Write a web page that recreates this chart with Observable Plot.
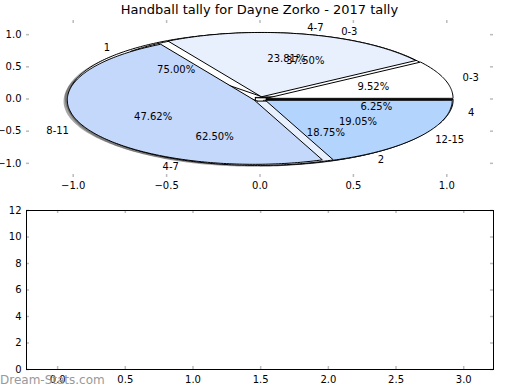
<!DOCTYPE html>
<html><head><meta charset="utf-8">
<script src="https://cdn.jsdelivr.net/npm/d3@7"></script>
<script src="https://cdn.jsdelivr.net/npm/@observablehq/plot@0.6"></script>
<style>
body{margin:0;background:#fff;font-family:"DejaVu Sans",sans-serif;}
#wrap{position:relative;width:520px;height:390px;overflow:hidden;background:#fff;}
#title{position:absolute;top:2px;left:26px;width:467px;text-align:center;font-size:13px;line-height:16px;color:#000;white-space:nowrap;}
#top{position:absolute;top:0;left:0;}
#bottom{position:absolute;top:200px;left:0;}
#mark{position:absolute;left:0;top:372px;font-size:12px;line-height:16px;color:#999;}
</style></head>
<body><div id="wrap"><div id="top"></div><div id="bottom"></div><div id="title"></div><div id="mark"></div></div>
<script>
const titleText = "Handball tally for Dayne Zorko - 2017 tally";
const watermarkText = "Dream-Stats.com";
const pieALabels = ["0-3","4-7","8-11","12-15"];
const pieAValues = [2,5,10,4];
const pieBLabels = ["0-3","4-7"];
const pieBValues = [3,5];
const pieCLabels = ["1","2","4"];
const pieCValues = [12,3,1];
const sliceColors = ["#ffffff","#e8f0fe","#c4d8fb","#b3d4fc"];
const pieXTicks = [-1,-0.5,0,0.5,1];
const pieYTicks = [-1,-0.5,0,0.5,1];
const barXTicks = [0,0.5,1,1.5,2,2.5,3];
const barYTicks = [0,2,4,6,8,10,12];

document.getElementById("title").textContent = titleText;
document.getElementById("mark").textContent = watermarkText;

const EXPLODE = 0.035, PCTDIST = 0.6, LABELDIST = 1.1;
const pies = [
  {name:"C", labels: pieCLabels, values: pieCValues},
  {name:"B", labels: pieBLabels, values: pieBValues},
  {name:"A", labels: pieALabels, values: pieAValues}
];
const wedgePts = [], shadowPts = [], pctText = [], labelText = [];
for (const p of pies) {
  const total = d3.sum(p.values);
  let a0 = 0;
  p.values.forEach((v, i) => {
    const a1 = a0 + 360 * v / total;
    const mid = (a0 + a1) / 2 * Math.PI / 180;
    const ox = EXPLODE * Math.cos(mid), oy = EXPLODE * Math.sin(mid);
    const id = p.name + i;
    const color = sliceColors[i % sliceColors.length];
    const n = Math.max(2, Math.ceil(a1 - a0));
    const pts = [[ox, oy]];
    for (let k = 0; k <= n; k++) {
      const a = (a0 + (a1 - a0) * k / n) * Math.PI / 180;
      pts.push([ox + Math.cos(a), oy + Math.sin(a)]);
    }
    pts.push([ox, oy]);
    pts.forEach(([x, y]) => {
      wedgePts.push({id, x, y, color});
      shadowPts.push({id, x: x - 0.02, y: y - 0.02});
    });
    pctText.push({x: ox + PCTDIST * Math.cos(mid), y: oy + PCTDIST * Math.sin(mid), text: (100 * v / total).toFixed(2) + "%"});
    const lx = ox + LABELDIST * Math.cos(mid), ly = oy + LABELDIST * Math.sin(mid);
    labelText.push({x: lx, y: ly, text: p.labels[i], anchor: lx > 0 ? "start" : "end"});
    a0 = a1;
  });
}

const tickStyle = {stroke: "#bbbbbb", strokeWidth: 1.5};
const f1 = d3.format(".1f");

const topH = 200, topMT = 20, topMB = 23, topML = 26, topMR = 27;
const topFH = topH - topMT - topMB, topFW = 520 - topML - topMR;
const topChart = Plot.plot({
  width: 520, height: topH, marginTop: topMT, marginBottom: topMB, marginLeft: topML, marginRight: topMR,
  style: {background: "transparent", fontFamily: "DejaVu Sans", fontSize: "10px", overflow: "visible", color: "black"},
  x: {domain: [-1.25, 1.25]},
  y: {domain: [-1.22, 1.22]},
  marks: [
    Plot.line(shadowPts, {x: "x", y: "y", z: "id", fill: "#4d4d4d", fillOpacity: 0.5, stroke: "none", curve: "linear"}),
    Plot.line(wedgePts, {x: "x", y: "y", z: "id", fill: "color", stroke: "black", strokeWidth: 1, curve: "linear"}),
    Plot.text(pctText, {x: "x", y: "y", text: "text", fill: "black", fontSize: 10}),
    Plot.text(labelText.filter(d => d.anchor === "start"), {x: "x", y: "y", text: "text", textAnchor: "start", fill: "black", fontSize: 10}),
    Plot.text(labelText.filter(d => d.anchor === "end"), {x: "x", y: "y", text: "text", textAnchor: "end", fill: "black", fontSize: 10}),
    Plot.ruleX(pieXTicks, {x: d => d, insetBottom: topFH - 3, ...tickStyle}),
    Plot.ruleX(pieXTicks, {x: d => d, insetTop: topFH - 3, ...tickStyle}),
    Plot.ruleY(pieYTicks, {y: d => d, insetRight: topFW - 3, ...tickStyle}),
    Plot.ruleY(pieYTicks, {y: d => d, insetLeft: topFW - 3, ...tickStyle}),
    Plot.axisX({ticks: pieXTicks, tickSize: 0, tickPadding: 4, tickFormat: f1, label: null, fontSize: 10}),
    Plot.axisY({ticks: pieYTicks, tickSize: 0, tickPadding: 5, tickFormat: f1, label: null, fontSize: 10})
  ]
});
document.getElementById("top").appendChild(topChart);

const botH = 190, botMT = 10, botMB = 21, botML = 26, botMR = 27;
const botFH = botH - botMT - botMB, botFW = 520 - botML - botMR;
const botChart = Plot.plot({
  width: 520, height: botH, marginTop: botMT, marginBottom: botMB, marginLeft: botML, marginRight: botMR,
  style: {background: "transparent", fontFamily: "DejaVu Sans", fontSize: "10px", overflow: "visible", color: "black"},
  x: {domain: [-0.23, 3.22]},
  y: {domain: [0, 12]},
  marks: [
    Plot.ruleX(barXTicks, {x: d => d, insetBottom: botFH - 3, ...tickStyle}),
    Plot.ruleX(barXTicks, {x: d => d, insetTop: botFH - 3, ...tickStyle}),
    Plot.ruleY(barYTicks, {y: d => d, insetRight: botFW - 3, ...tickStyle}),
    Plot.ruleY(barYTicks, {y: d => d, insetLeft: botFW - 3, ...tickStyle}),
    Plot.frame({stroke: "black", strokeWidth: 1}),
    Plot.axisX({ticks: barXTicks, tickSize: 0, tickPadding: 6, tickFormat: f1, label: null, fontSize: 10}),
    Plot.axisY({ticks: barYTicks, tickSize: 0, tickPadding: 5, tickFormat: d => String(d), label: null, fontSize: 10})
  ]
});
document.getElementById("bottom").appendChild(botChart);
</script></body></html>
